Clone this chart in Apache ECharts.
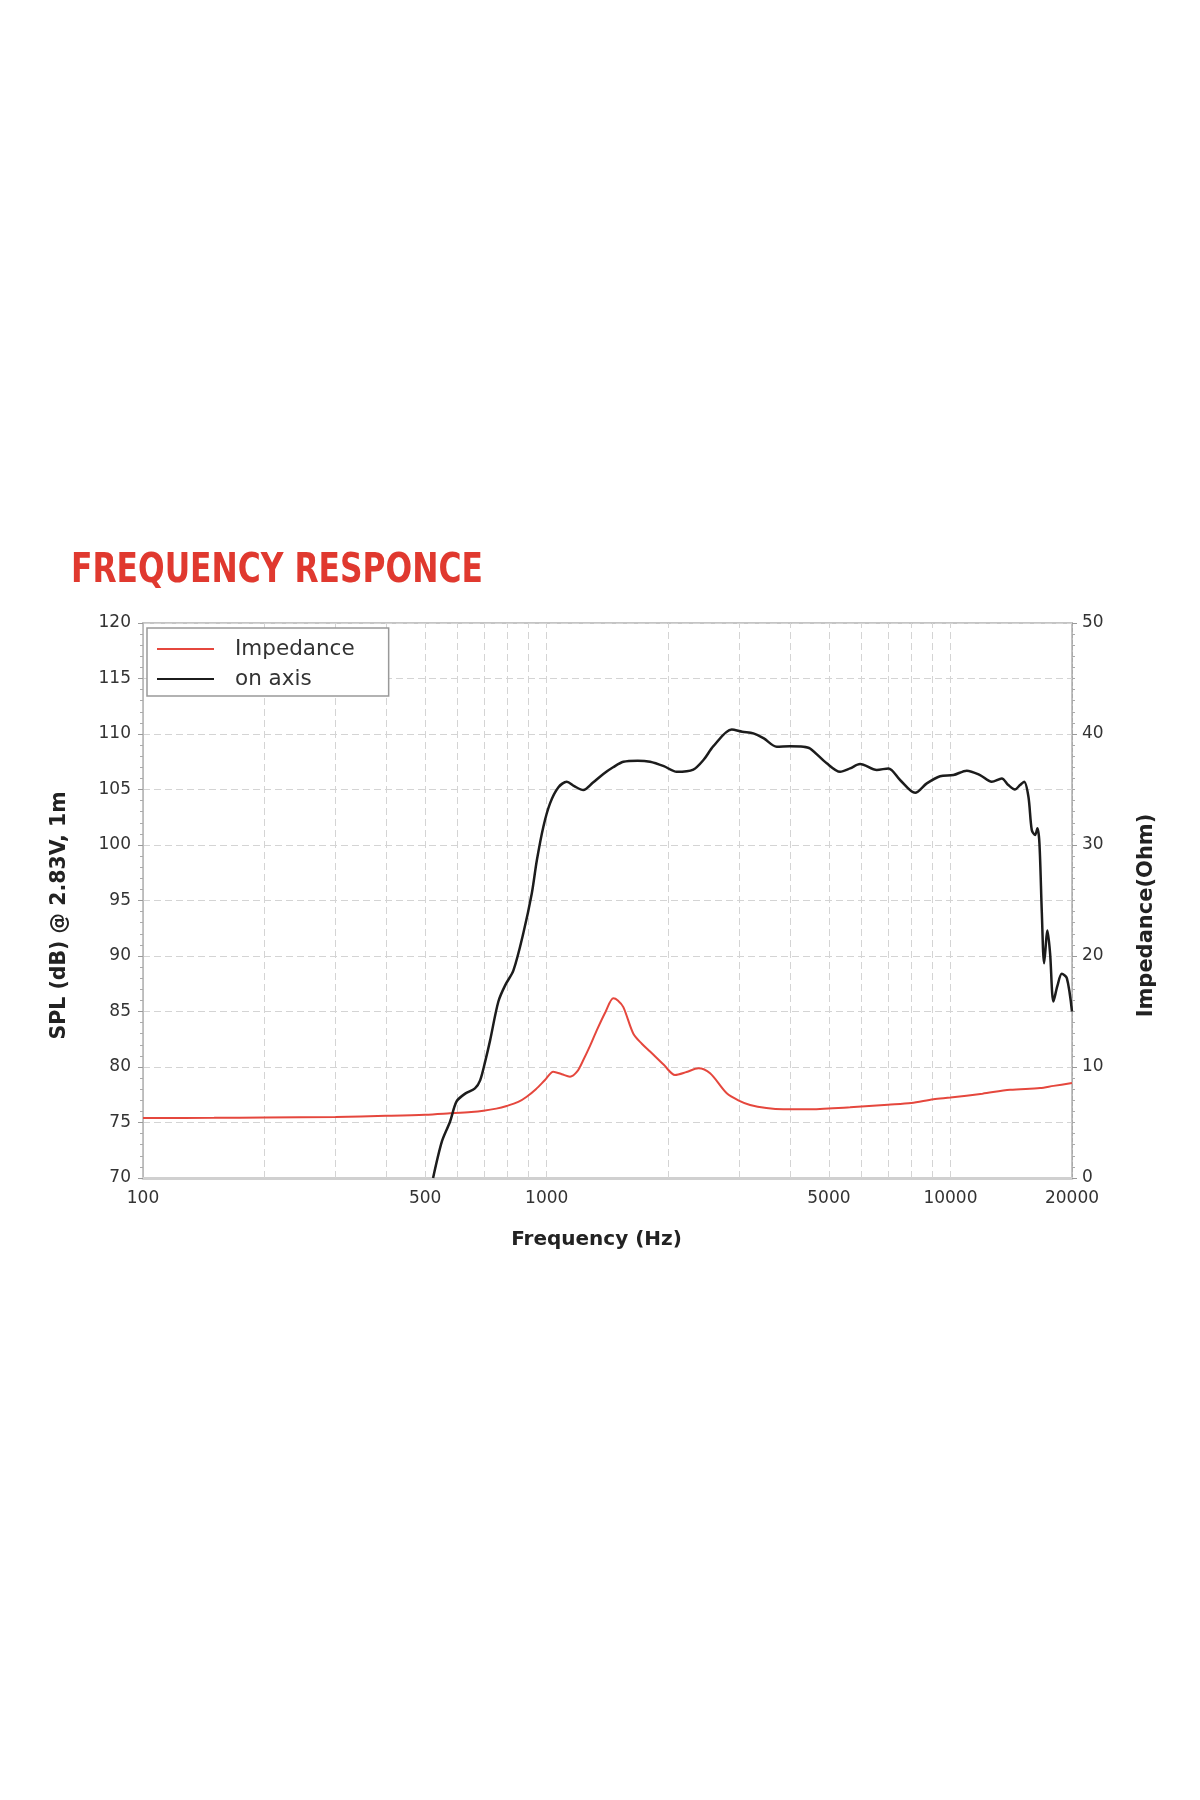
<!DOCTYPE html>
<html>
<head>
<meta charset="utf-8">
<script src="https://cdn.jsdelivr.net/npm/echarts@6/dist/echarts.min.js"></script>
<style>
html,body{margin:0;padding:0;background:#fff;}
#chart{width:1200px;height:1800px;}
</style>
</head>
<body>
<div id="chart"></div>
<script>
// ---- data ----
const freqZ = [100, 150, 200, 300, 400, 500, 576, 650, 697, 750, 796, 850, 892, 940, 990, 1038, 1090, 1142, 1190, 1232, 1280, 1330, 1400, 1462, 1500, 1548, 1639, 1720, 1803, 1950, 2078, 2220, 2374, 2539, 2792, 3000, 3189, 3500, 3856, 4500, 5640, 7000, 8000, 9073, 10000, 12000, 14050, 16670, 18000, 20000];
const impedance = [5.4, 5.42, 5.45, 5.5, 5.6, 5.7, 5.83, 5.95, 6.06, 6.25, 6.49, 6.85, 7.32, 8.0, 8.83, 9.58, 9.35, 9.13, 9.6, 10.63, 11.9, 13.3, 15.0, 16.19, 16.0, 15.4, 13.0, 12.1, 11.4, 10.2, 9.28, 9.55, 9.88, 9.43, 7.63, 6.95, 6.58, 6.3, 6.19, 6.2, 6.37, 6.6, 6.75, 7.1, 7.25, 7.6, 7.95, 8.1, 8.3, 8.55];

const freqSPL = [523, 550, 576, 598, 628, 664, 684, 705, 724, 759, 790, 827, 875, 918, 945, 981, 1019, 1069, 1121, 1170, 1232, 1300, 1381, 1460, 1548, 1680, 1803, 1950, 2099, 2307, 2450, 2587, 2872, 3050, 3250, 3450, 3712, 4000, 4320, 4489, 4938, 5328, 5640, 5972, 6568, 7020, 7502, 8175, 8737, 9424, 10170, 10975, 11840, 12654, 13400, 13910, 14450, 14870, 15220, 15600, 15900, 16200, 16420, 16610, 16840, 17060, 17390, 17650, 17990, 18400, 18870, 19420, 20000];
const spl = [70, 73.3, 75.07, 76.9, 77.6, 78.08, 78.8, 80.6, 82.4, 85.9, 87.4, 88.7, 92.05, 95.6, 98.6, 101.65, 103.75, 105.2, 105.7, 105.3, 104.95, 105.6, 106.4, 107.0, 107.5, 107.6, 107.5, 107.1, 106.6, 106.8, 107.7, 108.9, 110.4, 110.2, 110.06, 109.6, 108.86, 108.9, 108.86, 108.7, 107.36, 106.6, 106.9, 107.3, 106.76, 106.9, 105.86, 104.7, 105.55, 106.2, 106.3, 106.7, 106.3, 105.7, 106.0, 105.4, 105.0, 105.4, 105.7, 104.35, 101.35, 100.9, 101.5, 100.15, 93.85, 89.34, 92.3, 90.24, 85.9, 87.3, 88.4, 88.0, 85.0];

const xTickLabels = [100, 500, 1000, 5000, 10000, 20000];
const xGridLines = [200, 300, 400, 500, 600, 700, 800, 900, 1000, 2000, 3000, 4000, 5000, 6000, 7000, 8000, 9000, 10000];
const splRange = [70, 120, 5];
const impRange = [0, 50, 10];

const titleText = 'FREQUENCY RESPONCE';
const seriesNames = ['Impedance', 'on axis'];

// ---- chart ----
const tickFont = {fontFamily: 'DejaVu Sans', fontSize: 17, color: '#333'};
function nameFont(size, pad) {
  return {fontFamily: 'DejaVu Sans', fontSize: size, fontWeight: 'bold', color: '#222', padding: pad};
}

const gridMarks = xGridLines.map(function (f) {
  const item = {xAxis: f};
  if (xTickLabels.indexOf(f) >= 0 && f !== 1000 && f !== 10000) {
    item.label = Object.assign({show: true, position: 'start', distance: 12, formatter: String(f)}, tickFont);
  }
  return item;
});

const chart = echarts.init(document.getElementById('chart'));
chart.setOption({
  animation: false,
  backgroundColor: '#fff',
  graphic: [{
    type: 'text',
    x: 71,
    y: 551,
    scaleX: 0.85,
    style: {
      text: titleText,
      fill: '#e0392f',
      fontFamily: "'DejaVu Sans Condensed', 'DejaVu Sans', sans-serif",
      fontSize: 41,
      fontWeight: 'bold',
      verticalAlign: 'top'
    }
  }],
  legend: {
    data: seriesNames,
    orient: 'vertical',
    left: 147,
    top: 628,
    icon: 'rect',
    itemWidth: 57,
    itemHeight: 2,
    itemGap: 8,
    padding: [10, 34, 6, 10],
    borderColor: '#999',
    borderWidth: 1.5,
    backgroundColor: '#fff',
    textStyle: {fontFamily: 'DejaVu Sans', fontSize: 21.5, color: '#333', padding: [0, 0, 0, 16]}
  },
  grid: {
    left: 143, right: 128, top: 623, bottom: 622,
    show: true, borderColor: '#c4c4c4', borderWidth: 2, backgroundColor: 'transparent'
  },
  xAxis: {
    type: 'log',
    logBase: 10,
    min: xTickLabels[0],
    max: xTickLabels[xTickLabels.length - 1],
    name: 'Frequency (Hz)',
    nameLocation: 'middle',
    nameGap: 52,
    nameTextStyle: nameFont(20, [0, 22, 0, 0]),
    axisLine: {lineStyle: {color: '#d0d0d0', width: 3}},
    axisTick: {show: false},
    splitLine: {show: false},
    axisLabel: Object.assign({
      margin: 12,
      showMinLabel: true,
      showMaxLabel: true,
      formatter: function (v) { return String(Math.round(v)); }
    }, tickFont)
  },
  yAxis: [{
    type: 'value',
    min: splRange[0], max: splRange[1], interval: splRange[2],
    name: 'SPL (dB) @ 2.83V, 1m',
    nameLocation: 'middle',
    nameGap: 73,
    nameTextStyle: nameFont(20.5, [0, 30, 0, 0]),
    axisLine: {show: true, lineStyle: {color: '#bbb', width: 1}},
    axisTick: {show: true, length: 5, lineStyle: {color: '#999'}},
    minorTick: {show: true, splitNumber: 5, length: 3, lineStyle: {color: '#aaa'}},
    splitLine: {show: true, lineStyle: {color: '#d4d4d4', type: [7, 4], width: 1}},
    axisLabel: Object.assign({margin: 12}, tickFont)
  }, {
    type: 'value',
    position: 'right',
    min: impRange[0], max: impRange[1], interval: impRange[2],
    name: 'Impedance(Ohm)',
    nameLocation: 'middle',
    nameGap: 64,
    nameTextStyle: nameFont(21, [0, 30, 0, 0]),
    axisLine: {show: true, lineStyle: {color: '#aaa', width: 1, type: 'dashed'}},
    axisTick: {show: true, length: 5, lineStyle: {color: '#999'}},
    minorTick: {show: true, splitNumber: 10, length: 3, lineStyle: {color: '#aaa'}},
    splitLine: {show: false},
    axisLabel: Object.assign({margin: 10}, tickFont)
  }],
  series: [{
    name: seriesNames[0],
    type: 'line',
    yAxisIndex: 1,
    symbol: 'none',
    smooth: 0.3,
    data: freqZ.map(function (f, i) { return [f, impedance[i]]; }),
    lineStyle: {color: '#e5473d', width: 2},
    itemStyle: {color: '#e5473d'},
    z: 3
  }, {
    name: seriesNames[1],
    type: 'line',
    yAxisIndex: 0,
    symbol: 'none',
    smooth: 0.3,
    data: freqSPL.map(function (f, i) { return [f, spl[i]]; }),
    lineStyle: {color: '#1c1c1c', width: 2.5},
    itemStyle: {color: '#1c1c1c'},
    z: 4,
    markLine: {
      silent: true,
      symbol: ['none', 'none'],
      label: {show: false},
      lineStyle: {color: '#d4d4d4', type: [7, 4], width: 1},
      emphasis: {disabled: true},
      z: 1,
      data: gridMarks
    }
  }]
});
</script>
</body>
</html>
